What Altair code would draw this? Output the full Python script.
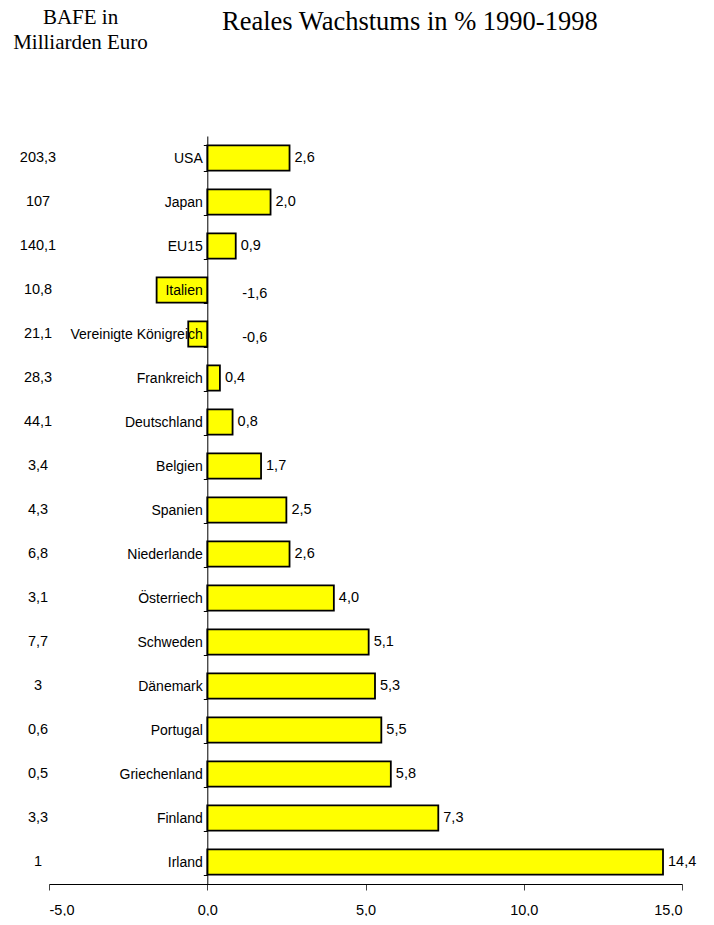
import altair as alt
import pandas as pd

countries = ["USA", "Japan", "EU15", "Italien", "Vereinigte Königreich", "Frankreich",
             "Deutschland", "Belgien", "Spanien", "Niederlande", "Österriech", "Schweden",
             "Dänemark", "Portugal", "Griechenland", "Finland", "Irland"]
growth = [2.6, 2.0, 0.9, -1.6, -0.6, 0.4, 0.8, 1.7, 2.5, 2.6, 4.0, 5.1, 5.3, 5.5, 5.8, 7.3, 14.4]
bafe = ["203,3", "107", "140,1", "10,8", "21,1", "28,3", "44,1", "3,4", "4,3", "6,8",
        "3,1", "7,7", "3", "0,6", "0,5", "3,3", "1"]
x_ticks = [-5, 0, 5, 10, 15]

df = pd.DataFrame({
    "land": countries,
    "wachstum": growth,
    "label": [f"{v:.1f}".replace(".", ",") for v in growth],
    "bafe": bafe,
})

SANS = "Liberation Sans, Arial, sans-serif"
SERIF = "Liberation Serif, Times New Roman, serif"
FS_CAT = 14
FS_NUM = 14.5

base = alt.Chart(df)

y_enc = alt.Y(
    "land:N", sort=countries,
    scale=alt.Scale(paddingInner=0.43, paddingOuter=0.215),
    axis=alt.Axis(title=None, orient="left", offset=-158.3, tickBand="extent",
                  tickSize=4, labelPadding=1, labelFont=SANS, labelFontSize=FS_CAT,
                  labelColor="black", domainColor="black", tickColor="black",
                  labelLimit=400, zindex=1),
)
x_enc = alt.X(
    "wachstum:Q",
    scale=alt.Scale(domain=[-5, 15], nice=False, zero=False),
    axis=alt.Axis(title=None, values=x_ticks, grid=False, tickSize=6, labelPadding=13,
                  labelExpr="replace(replace(format(datum.value, '.1f'), '.', ','), '\u2212', '-')",
                  labelFont=SANS, labelFontSize=FS_NUM, labelColor="black",
                  domainColor="black", tickColor="#444"),
)

bars = base.mark_bar(color="#FFFF00", stroke="black", strokeWidth=1.8).encode(
    x=x_enc, x2=alt.datum(0), y=y_enc
)

pos_labels = base.transform_filter("datum.wachstum >= 0").mark_text(
    align="left", baseline="middle", dx=5, font=SANS, fontSize=FS_NUM, color="black"
).encode(x="wachstum:Q", y=alt.Y("land:N", sort=countries), text="label:N")

neg_labels = base.transform_filter("datum.wachstum < 0").mark_text(
    align="left", baseline="middle", dx=35, dy=4, font=SANS, fontSize=FS_NUM, color="black"
).encode(x=alt.datum(0), y=alt.Y("land:N", sort=countries), text="label:N")

bafe_labels = base.mark_text(
    align="center", baseline="middle", font=SANS, fontSize=FS_NUM, color="black"
).encode(x=alt.value(-11), y=alt.Y("land:N", sort=countries), text="bafe:N")

titles = pd.DataFrame({
    "t": ["Reales Wachstums in % 1990-1998", "BAFE in", "Milliarden Euro"],
})
main_title = alt.Chart(titles).transform_filter("datum.t == 'Reales Wachstums in % 1990-1998'").mark_text(
    align="left", baseline="alphabetic", font=SERIF, fontSize=26.5, color="black"
).encode(x=alt.value(173), y=alt.value(-106.5), text="t:N")
bafe_t1 = alt.Chart(titles).transform_filter("datum.t == 'BAFE in'").mark_text(
    align="center", baseline="alphabetic", font=SERIF, fontSize=21, color="black"
).encode(x=alt.value(31.5), y=alt.value(-112.2), text="t:N")
bafe_t2 = alt.Chart(titles).transform_filter("datum.t == 'Milliarden Euro'").mark_text(
    align="center", baseline="alphabetic", font=SERIF, fontSize=21, color="black"
).encode(x=alt.value(31.5), y=alt.value(-87.2), text="t:N")

chart = alt.layer(bars, pos_labels, neg_labels, bafe_labels, main_title, bafe_t1, bafe_t2).properties(
    width=633, height=748,
    padding={"left": 41, "top": 128, "right": 18, "bottom": 32},
    autosize=alt.AutoSizeParams(type="none"),
    background="white",
).configure_view(stroke=None)

chart.save("out.html", embed_options={"renderer": "svg", "actions": False})
